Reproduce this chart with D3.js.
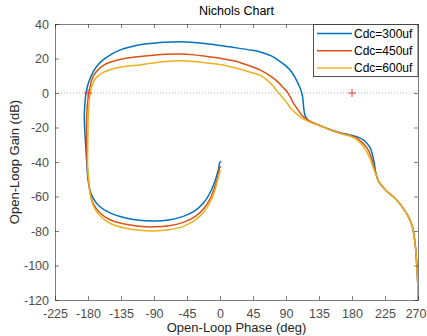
<!DOCTYPE html>
<html>
<head>
<meta charset="utf-8">
<script src="https://cdn.jsdelivr.net/npm/d3@7"></script>
<style>
  body { margin: 0; background: #fff; }
  svg { font-family: "Liberation Sans", Arial, Helvetica, sans-serif; }
</style>
</head>
<body>
<div id="chart"></div>
<script>
// series names + colours (MATLAB default order)
const seriesNames = ["Cdc=300uf", "Cdc=450uf", "Cdc=600uf"];
const seriesColors = ["#0072BD", "#D95319", "#EDB120"];

// [phase (deg), gain (dB)]
const cdc300 = [[1.5,-40],[0,-40],[-2,-44],[-6,-50],[-12,-56.5],[-22,-63.5],[-35,-68.5],[-50,-71.5],[-70,-73.6],[-90,-74.2],[-110,-73.8],[-130,-72.3],[-150,-69.5],[-165,-65.5],[-173,-61],[-177.5,-56],[-180,-50],[-181.5,-42],[-182.3,-36],[-183.5,-28],[-184.6,-20],[-185,-14],[-184.7,-9],[-183.8,-4],[-182.7,0],[-181,3.5],[-178.5,7],[-175,10.5],[-170.5,14],[-165,17],[-159,19.3],[-150,22],[-136,25],[-120,27],[-105,28.2],[-90,28.9],[-75,29.4],[-55,29.7],[-35,29.3],[-15,28.4],[0,27.6],[20,26.3],[40,25],[55,23.8],[70,21.5],[82,18.2],[91,15.3],[98,12],[103,8.5],[107,5],[110.5,1.5],[112.5,-2],[113.6,-6],[114.5,-10],[116,-13],[119,-15.3],[123,-16.6],[136,-18.8],[150,-21.2],[165,-23.2],[177,-24.3],[188,-25.6],[195.5,-27.2],[201,-29.5],[205,-32],[208,-36],[210.5,-41],[211.8,-45]];
const cdc450 = [[1.5,-43],[0,-43],[-2,-47],[-6,-53],[-12,-60],[-22,-67],[-35,-72],[-50,-75],[-70,-77],[-90,-77.6],[-110,-77.3],[-130,-76],[-150,-73.5],[-165,-69],[-173,-64],[-177,-58],[-179.5,-50],[-181,-42],[-181.3,-36],[-181.8,-28],[-182,-20],[-181.8,-14],[-181.2,-9],[-180.2,-4],[-178.6,0],[-177,4],[-174.5,8],[-171,11],[-165,14],[-158,16.3],[-150,17.8],[-130,20],[-109,21.2],[-95,21.8],[-75,22.4],[-55,22.6],[-35,22.1],[-15,21],[0,20.2],[20,18.5],[40,15.8],[55,13.3],[70,9.5],[80,6],[86,3.2],[91,1],[96,-2.5],[101,-6.5],[106,-9.5],[111,-12.5],[116,-14.6],[123,-16.5],[136,-18.9],[150,-21.3],[165,-23.4],[177,-24.6],[186,-26],[192,-28],[197,-30],[202,-33],[206,-37],[209,-41.5],[211.5,-45.3]];
const cdc600 = [[1.5,-45.5],[0,-45.5],[-2,-48.5],[-6,-55],[-12,-62],[-22,-69],[-35,-74],[-50,-77.3],[-70,-79.3],[-90,-80],[-110,-79.6],[-130,-78.3],[-150,-75.5],[-164,-71],[-172,-66],[-176.5,-60],[-179,-50],[-180.5,-42],[-180.4,-36],[-180.2,-28],[-180,-20],[-179.7,-14],[-179,-9],[-178.2,-4],[-176.8,0],[-175,3.5],[-172.5,6.5],[-168,9.2],[-160,11.8],[-150,13.5],[-130,15.3],[-109,16.3],[-95,17.2],[-75,18.3],[-55,18.7],[-35,18.3],[-15,17.3],[0,16.5],[20,14.6],[40,12.2],[55,10.2],[65,7.2],[73,3.8],[78,1],[84,-2],[90,-5],[96,-8.5],[103,-11.5],[110,-14],[118,-16],[125,-17.3],[136,-19],[150,-21.4],[165,-23.6],[177,-24.9],[184,-26.3],[190,-28.5],[195.5,-31],[200,-34],[204.5,-38],[208,-42],[211.3,-46]];
// high-frequency tail shared by all three curves
const tail = [[213.5,-48],[216,-51],[220,-53.5],[227,-56.8],[236,-60],[244,-63.5],[250,-67],[255,-70.2],[259,-73.6],[262,-77],[264,-81],[265.5,-85.5],[266.7,-90],[267.8,-96],[268.8,-103],[269.6,-110],[270,-120]];

const xTicks = [-225, -180, -135, -90, -45, 0, 45, 90, 135, 180, 225, 270];
const yTicks = [-120, -100, -80, -60, -40, -20, 0, 20, 40];
const criticalPoints = [[-180, 0], [180, 0]];

const margin = { top: 24, right: 9, bottom: 36, left: 55 };
const width = 427 - margin.left - margin.right;
const height = 336 - margin.top - margin.bottom;

const svg = d3.select("#chart")
    .append("svg")
        .attr("width", 427)
        .attr("height", 336)
    .append("g")
        .attr("transform", `translate(${margin.left}, ${margin.top})`);

svg.append("defs")
    .append("clipPath")
        .attr("id", "clip")
    .append("rect")
        .attr("width", width)
        .attr("height", height);

const x = d3.scaleLinear().domain([-225, 270]).range([0, width]);
const y = d3.scaleLinear().domain([-120, 40]).range([height, 0]);

// 0 dB dotted line
svg.append("line")
    .attr("x1", 0).attr("x2", width)
    .attr("y1", y(0)).attr("y2", y(0))
    .attr("stroke", "#b5b5b5")
    .attr("stroke-width", 1)
    .attr("stroke-dasharray", "1,2");

// curves
const line = d3.line()
    .x(d => x(d[0]))
    .y(d => y(d[1]))
    .curve(d3.curveCatmullRom.alpha(0.5));

const allSeries = [cdc300, cdc450, cdc600].map(s => s.concat(tail));

svg.append("g")
    .attr("clip-path", "url(#clip)")
    .selectAll(".curve")
    .data(allSeries)
    .enter()
    .append("path")
        .attr("class", "curve")
        .attr("d", line)
        .attr("fill", "none")
        .attr("stroke", (d, i) => seriesColors[i])
        .attr("stroke-width", 1.5);

// red + at critical points
svg.selectAll(".crit")
    .data(criticalPoints)
    .enter()
    .append("path")
        .attr("class", "crit")
        .attr("d", d => `M${x(d[0]) - 4},${y(d[1])}H${x(d[0]) + 4}M${x(d[0])},${y(d[1]) - 4}V${y(d[1]) + 4}`)
        .attr("stroke", "#f03c3c")
        .attr("stroke-width", 1);

// axes, ticks inside on all four sides
const axisColor = "#262626";
const fmt = d => String(d); // plain hyphen minus like MATLAB
function styleAxis(g) {
    g.select(".domain").attr("stroke", axisColor).attr("stroke-width", 0.6);
    g.selectAll(".tick line").attr("stroke", axisColor).attr("stroke-width", 0.6);
    g.selectAll(".tick text")
        .attr("fill", "#4d4d4d")
        .style("font-size", "12.5px");
}

const xAxis = svg.append("g")
    .attr("transform", `translate(0, ${height})`)
    .call(d3.axisBottom(x).tickValues(xTicks).tickFormat(fmt).tickSizeInner(-4).tickSizeOuter(0).tickPadding(9))
    .call(styleAxis);

// last label sits on the window edge: keep it inside
xAxis.selectAll(".tick text")
    .filter(d => d === 270)
    .attr("text-anchor", "end")
    .attr("x", 8);

svg.append("g")
    .call(d3.axisTop(x).tickValues(xTicks).tickSizeInner(-4).tickSizeOuter(0).tickFormat(""))
    .call(styleAxis);

svg.append("g")
    .call(d3.axisLeft(y).tickValues(yTicks).tickFormat(fmt).tickSizeInner(-4).tickSizeOuter(0).tickPadding(6))
    .call(styleAxis);

svg.append("g")
    .attr("transform", `translate(${width}, 0)`)
    .call(d3.axisRight(y).tickValues(yTicks).tickSizeInner(-4).tickSizeOuter(0).tickFormat(""))
    .call(styleAxis);

// title
svg.append("text")
    .attr("x", width / 2)
    .attr("y", -9)
    .attr("text-anchor", "middle")
    .style("font-size", "12.5px")
    .style("fill", "#000")
    .text("Nichols Chart");

// axis titles
svg.append("text")
    .attr("x", width / 2)
    .attr("y", height + 32)
    .attr("text-anchor", "middle")
    .style("font-size", "13px")
    .style("fill", "#262626")
    .text("Open-Loop Phase (deg)");

svg.append("text")
    .attr("transform", "rotate(-90)")
    .attr("x", -height / 2)
    .attr("y", -36)
    .attr("text-anchor", "middle")
    .style("font-size", "13px")
    .style("fill", "#262626")
    .text("Open-Loop Gain (dB)");

// legend
const legend = svg.append("g")
    .attr("transform", `translate(${width - 105}, 0)`);

legend.append("rect")
    .attr("x", 0.5).attr("y", 0.5)
    .attr("width", 104.5)
    .attr("height", 52)
    .attr("fill", "#fff")
    .attr("stroke", axisColor)
    .attr("stroke-width", 0.8);

seriesNames.forEach((name, i) => {
    const ly = 9.5 + i * 17.3;
    legend.append("line")
        .attr("x1", 4).attr("x2", 39)
        .attr("y1", ly).attr("y2", ly)
        .attr("stroke", seriesColors[i])
        .attr("stroke-width", 1.5);
    legend.append("text")
        .attr("x", 41)
        .attr("y", ly)
        .attr("dy", "0.35em")
        .style("font-size", "12px")
        .style("fill", "#000")
        .text(name);
});
</script>
</body>
</html>
